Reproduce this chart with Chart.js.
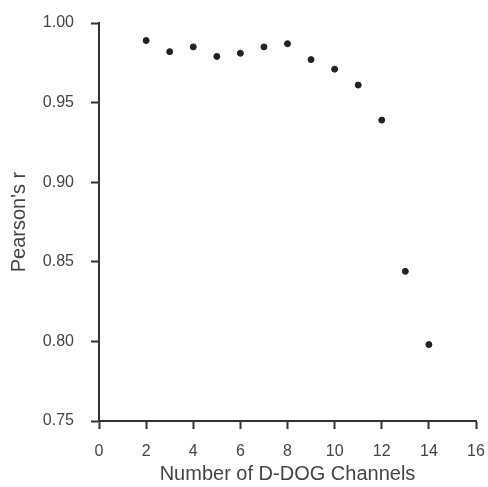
<!DOCTYPE html>
<html><head><meta charset="utf-8">
<script src="https://cdn.jsdelivr.net/npm/chart.js@4"></script>
<style>html,body{margin:0;padding:0;background:#fff}#wrap{width:488px;height:487px}</style>
</head><body><div id="wrap"><canvas id="c" width="488" height="487"></canvas></div>
<script>
const channels = [2, 3, 4, 5, 6, 7, 8, 9, 10, 11, 12, 13, 14];
const pearsonR = [0.989, 0.982, 0.985, 0.979, 0.981, 0.985, 0.987, 0.977, 0.971, 0.961, 0.939, 0.844, 0.798];
const xTicks = [0, 2, 4, 6, 8, 10, 12, 14, 16];
const yTicks = [0.75, 0.80, 0.85, 0.90, 0.95, 1.00];

const pts = channels.map((x, i) => ({x, y: pearsonR[i]}));
const axisColor = '#333';
const textColor = '#444';
const fam = 'Liberation Sans, Arial, sans-serif';
const font = {family: fam, size: 16};

new Chart(document.getElementById('c'), {
  type: 'scatter',
  data: {datasets: [{data: pts, backgroundColor: '#222', borderColor: '#222', pointRadius: 3, pointHoverRadius: 3}]},
  options: {
    responsive: false, animation: false,
    layout: {padding: {top: 23, right: 12, left: 0, bottom: 0}},
    plugins: {legend: {display: false}, tooltip: {enabled: false}},
    scales: {
      x: {
        type: 'linear', min: 0, max: 16,
        afterBuildTicks: s => { s.ticks = xTicks.map(v => ({value: v})); },
        afterFit: s => { s.height = 66; s.paddingLeft = 0; s.paddingRight = 0; },
        border: {display: true, color: axisColor, width: 2},
        grid: {display: true, drawOnChartArea: false, drawTicks: true, tickLength: 8, tickColor: axisColor, tickWidth: 2},
        ticks: {color: textColor, font: font, padding: 13, maxRotation: 0, callback: v => String(v)},
        title: {display: true, text: 'Number of D-DOG Channels', color: textColor, font: {family: fam, size: 20}, padding: {top: 0, bottom: 1}}
      },
      y: {
        type: 'linear', min: 0.75, max: 1.0,
        afterBuildTicks: s => { s.ticks = yTicks.map(v => ({value: v})); },
        afterFit: s => { s.width = 99; s.paddingTop = 0; s.paddingBottom = 0; },
        border: {display: true, color: axisColor, width: 2},
        grid: {display: true, drawOnChartArea: false, drawTicks: true, tickLength: 8, tickColor: axisColor, tickWidth: 2},
        ticks: {color: textColor, font: font, padding: 17, callback: v => v.toFixed(2)},
        title: {display: true, text: "Pearson's r", color: textColor, font: {family: fam, size: 20}, padding: {top: 7, bottom: 0}}
      }
    }
  }
});
</script></body></html>
